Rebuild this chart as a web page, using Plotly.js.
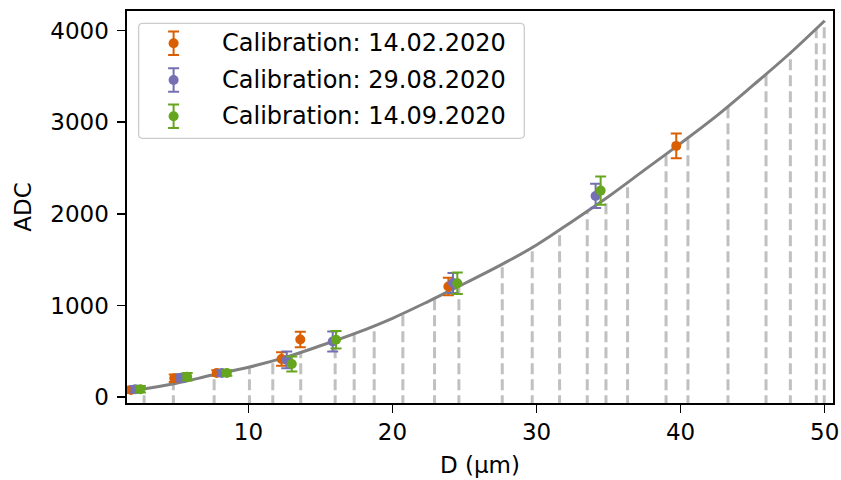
<!DOCTYPE html>
<html>
<head>
<meta charset="utf-8">
<script src="https://cdn.plot.ly/plotly-3.0.1.min.js"></script>
<style>html,body{margin:0;padding:0;background:#fff;}#chart{width:841px;height:480px;}</style>
</head>
<body>
<div id="chart"></div>
<script>
// ---- data ----
const seriesNames = ['Calibration: 14.02.2020', 'Calibration: 29.08.2020', 'Calibration: 14.09.2020'];
const seriesColors = ['#d95f02', '#7570b3', '#66a61e'];

const d_1402   = [1.85, 4.85, 7.8, 12.3, 13.6, 23.88, 39.7];
const adc_1402 = [78, 205, 262, 415, 628, 1207, 2742];
const err_1402 = [35, 40, 30, 73, 85, 96, 136];

const d_2908   = [2.15, 5.3, 8.15, 12.66, 15.85, 24.2, 34.1];
const adc_2908 = [85, 210, 262, 405, 607, 1245, 2196];
const err_2908 = [35, 40, 30, 91, 109, 110, 133];

const d_1409   = [2.5, 5.75, 8.5, 13.01, 16.08, 24.5, 34.45];
const adc_1409 = [85, 222, 262, 360, 625, 1242, 2254];
const err_1409 = [35, 40, 30, 82, 95, 118, 155];

const curveD   = [1.5, 2.5, 5, 7.5, 10, 12.5, 15, 17.5, 20, 22.5, 25, 27.5, 30, 32.5, 35, 37.5, 40, 42.5, 45, 47.5, 50];
const curveADC = [62, 82, 150, 240, 325, 430, 560, 700, 860, 1045, 1240, 1440, 1660, 1920, 2190, 2480, 2770, 3070, 3400, 3740, 4109];

const binD   = [2.76, 4.79, 7.62, 10.07, 11.69, 13.63, 16.02, 17.34, 18.73, 20.72, 22.92, 24.61, 27.62, 29.7, 31.6, 33.52, 34.82, 36.32, 38.99, 40.51, 43.29, 45.93, 47.62, 49.42, 49.97];
const binTop = [88, 138, 227, 321, 392, 486, 616, 694, 782, 916, 1077, 1208, 1463, 1652, 1836, 2031, 2168, 2333, 2640, 2824, 3176, 3528, 3764, 4024, 4105];
const binBase = -100;

const xTicks = [10, 20, 30, 40, 50];
const yTicks = [0, 1000, 2000, 3000, 4000];
const xRange = [1.57, 50.58];
const yRange = [-65, 4215];

const series = [
  {d: d_1402, adc: adc_1402, err: err_1402},
  {d: d_2908, adc: adc_2908, err: err_2908},
  {d: d_1409, adc: adc_1409, err: err_1409}
];

// ---- layout constants (pixels) ----
const FONT = 'DejaVu Sans, sans-serif';
const W = 841, H = 480;
const M = {l: 127, r: 8, t: 11, b: 77};
const PW = W - M.l - M.r, PH = H - M.t - M.b;

const traces = [];

// dashed bin lines
const bx = [], by = [];
for (let i = 0; i < binD.length; i++) {
  bx.push(binD[i], binD[i], null);
  by.push(binBase, binTop[i], null);
}
traces.push({
  x: bx, y: by, type: 'scatter', mode: 'lines', showlegend: false, hoverinfo: 'skip',
  line: {color: '#c0c0c0', width: 3, dash: '11px,5px'}
});

// fit curve
traces.push({
  x: curveD, y: curveADC, type: 'scatter', mode: 'lines', showlegend: false,
  line: {color: '#808080', width: 3, shape: 'spline'}
});

// data series
series.forEach((s, i) => {
  traces.push({
    x: s.d, y: s.adc, type: 'scatter', mode: 'markers', name: seriesNames[i], showlegend: false,
    marker: {color: seriesColors[i], size: 10},
    error_y: {type: 'data', array: s.err, visible: true, color: seriesColors[i], thickness: 2, width: 5.5}
  });
});

// custom legend (matplotlib style) on an overlay axis measured in pixels of the plot area
const legBox = {x0: 11.6, x1: 397.3, y0: 12.3, y1: 127.3, r: 4};
const legGlyphX = 46.6, legTextX = 92.6;
const legRows = [32.3, 69, 105.3];
series.forEach((s, i) => {
  traces.push({
    x: [legGlyphX], y: [legRows[i]], xaxis: 'x2', yaxis: 'y2', type: 'scatter', mode: 'markers',
    showlegend: false, hoverinfo: 'skip',
    marker: {color: seriesColors[i], size: 10},
    error_y: {type: 'constant', value: 11.7, visible: true, color: seriesColors[i], thickness: 2, width: 5.5}
  });
});

const b = legBox;
const boxPath = `M ${b.x0 + b.r},${b.y0} L ${b.x1 - b.r},${b.y0} Q ${b.x1},${b.y0} ${b.x1},${b.y0 + b.r} ` +
  `L ${b.x1},${b.y1 - b.r} Q ${b.x1},${b.y1} ${b.x1 - b.r},${b.y1} L ${b.x0 + b.r},${b.y1} ` +
  `Q ${b.x0},${b.y1} ${b.x0},${b.y1 - b.r} L ${b.x0},${b.y0 + b.r} Q ${b.x0},${b.y0} ${b.x0 + b.r},${b.y0} Z`;

const annotations = seriesNames.map((n, i) => ({
  text: n, xref: 'x2', yref: 'y2', x: legTextX, y: legRows[i], xanchor: 'left', yanchor: 'middle',
  showarrow: false, font: {family: FONT, size: 24, color: '#000'}
}));

const axisCommon = {
  showgrid: false, zeroline: false, showline: true, linecolor: '#000', linewidth: 1.6, mirror: true,
  ticks: 'outside', ticklen: 8, tickwidth: 1.6, tickcolor: '#000',
  tickfont: {family: FONT, size: 23, color: '#000'}
};

const layout = {
  width: W, height: H, margin: M,
  paper_bgcolor: '#fff', plot_bgcolor: '#fff',
  font: {family: FONT, color: '#000'},
  showlegend: false,
  xaxis: Object.assign({}, axisCommon, {
    range: xRange, tickmode: 'array', tickvals: xTicks, ticktext: xTicks.map(String),
    title: {text: 'D (μm)', font: {family: FONT, size: 23, color: '#000'}, standoff: 12}
  }),
  yaxis: Object.assign({}, axisCommon, {
    range: yRange, tickmode: 'array', tickvals: yTicks, ticktext: yTicks.map(String),
    ticklabelstandoff: 4,
    title: {text: 'ADC', font: {family: FONT, size: 23, color: '#000'}, standoff: 12}
  }),
  xaxis2: {overlaying: 'x', range: [0, PW], visible: false, fixedrange: true},
  yaxis2: {overlaying: 'y', range: [PH, 0], visible: false, fixedrange: true},
  shapes: [{
    type: 'path', path: boxPath, xref: 'x2', yref: 'y2', layer: 'below',
    line: {color: '#cccccc', width: 1.3}, fillcolor: 'rgba(255,255,255,0.8)'
  }],
  annotations: annotations
};

Plotly.newPlot('chart', traces, layout, {displayModeBar: false, staticPlot: true});
</script>
</body>
</html>
